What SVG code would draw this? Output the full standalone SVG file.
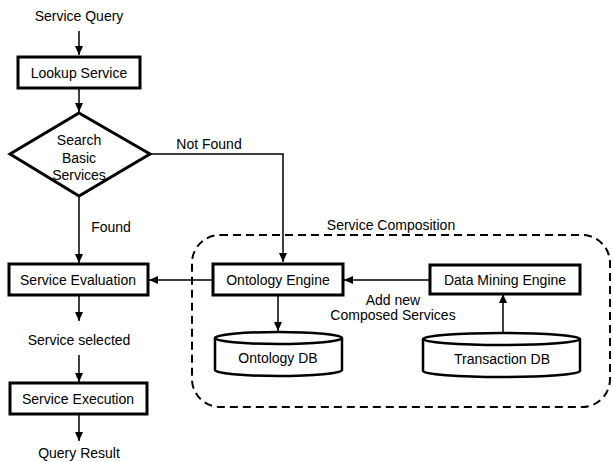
<svg xmlns="http://www.w3.org/2000/svg" width="613" height="462" viewBox="0 0 613 462">
<defs>
<marker id="ah" markerWidth="10" markerHeight="10" refX="9" refY="5" orient="auto" markerUnits="userSpaceOnUse">
<path d="M0,1 L9,5 L0,9 Z" fill="#000"/>
</marker>
<style>
text{font-family:"Liberation Sans",Arial,sans-serif;font-size:14px;fill:#000;text-anchor:middle}
.box{fill:#fff;stroke:#000;stroke-width:3}
.cyl{fill:#fff;stroke:#000;stroke-width:2.5}
.ln{fill:none;stroke:#000;stroke-width:1.5}
.dash{fill:none;stroke:#000;stroke-width:2;stroke-dasharray:8,5}
</style>
</defs>
<rect width="613" height="462" fill="#fff"/>
<g id="composition">
<rect class="dash" x="192" y="235" width="418" height="172" rx="28" ry="28"/>
<text x="391" y="230">Service Composition</text>
</g>
<g id="connectors">
<line class="ln" x1="79" y1="31" x2="79" y2="55" marker-end="url(#ah)"/>
<line class="ln" x1="79" y1="89" x2="79" y2="112" marker-end="url(#ah)"/>
<polyline class="ln" points="150,154 283,154 283,262" marker-end="url(#ah)"/>
<line class="ln" x1="79" y1="196" x2="79" y2="263" marker-end="url(#ah)"/>
<line class="ln" x1="213" y1="280" x2="149" y2="280" marker-end="url(#ah)"/>
<line class="ln" x1="430" y1="280" x2="344" y2="280" marker-end="url(#ah)"/>
<line class="ln" x1="278" y1="296" x2="278" y2="331" marker-end="url(#ah)"/>
<line class="ln" x1="503" y1="333" x2="503" y2="294" marker-end="url(#ah)"/>
<line class="ln" x1="79" y1="296" x2="79" y2="321" marker-end="url(#ah)"/>
<line class="ln" x1="79" y1="355" x2="79" y2="382" marker-end="url(#ah)"/>
<line class="ln" x1="79" y1="415" x2="79" y2="441" marker-end="url(#ah)"/>
<text x="209" y="149">Not Found</text>
<text x="111" y="232">Found</text>
<text x="393" y="305">Add new</text>
<text x="393" y="320">Composed Services</text>
</g>
<g id="service-query"><text x="79" y="21">Service Query</text></g>
<g id="lookup-service">
<rect class="box" x="18" y="57" width="122" height="31"/>
<text x="79" y="78">Lookup Service</text>
</g>
<g id="search-basic-services">
<polygon class="box" points="79,113 150,154 79,196 10,154"/>
<text x="79" y="145">Search</text>
<text x="79" y="163">Basic</text>
<text x="79" y="180">Services</text>
</g>
<g id="service-evaluation">
<rect class="box" x="9" y="264" width="139" height="31"/>
<text x="78" y="285">Service Evaluation</text>
</g>
<g id="service-selected"><text x="79" y="345">Service selected</text></g>
<g id="service-execution">
<rect class="box" x="10" y="383" width="137" height="31"/>
<text x="78" y="404">Service Execution</text>
</g>
<g id="query-result"><text x="79" y="458">Query Result</text></g>
<g id="ontology-engine">
<rect class="box" x="213" y="264" width="130" height="31"/>
<text x="278" y="285">Ontology Engine</text>
</g>
<g id="data-mining-engine">
<rect class="box" x="430" y="265" width="150" height="29"/>
<text x="505" y="285">Data Mining Engine</text>
</g>
<g id="ontology-db">
<path class="cyl" d="M215,338 L215,370 A63.5,6 0 0 0 342,370 L342,338"/>
<ellipse class="cyl" cx="278.5" cy="338" rx="63.5" ry="6"/>
<text x="278" y="363">Ontology DB</text>
</g>
<g id="transaction-db">
<path class="cyl" d="M423,339 L423,371 A78.5,6 0 0 0 580,371 L580,339"/>
<ellipse class="cyl" cx="501.5" cy="339" rx="78.5" ry="6"/>
<text x="502" y="364">Transaction DB</text>
</g>
</svg>
